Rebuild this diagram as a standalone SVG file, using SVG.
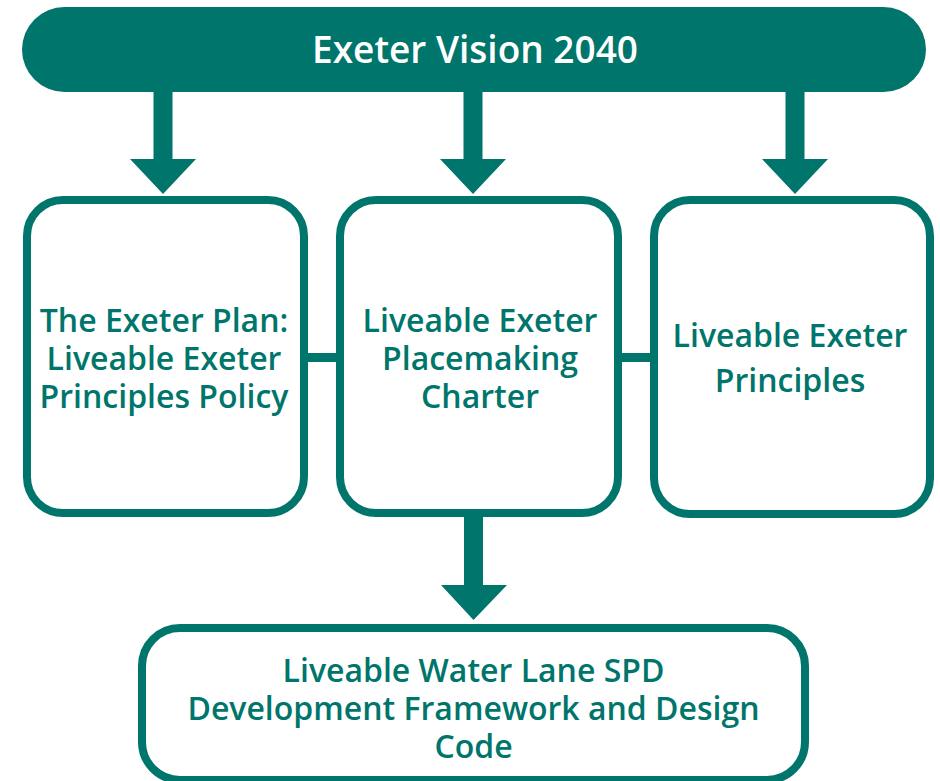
<svg xmlns="http://www.w3.org/2000/svg" width="940" height="781" viewBox="0 0 940 781">
<style>
.box{fill:#fff;stroke:#00756C;stroke-width:8}
.t{font-family:"Open Sans","Noto Sans",sans-serif;font-weight:600;font-size:32px;fill:#00756C;text-anchor:middle}
.title{font-family:"Open Sans","Noto Sans",sans-serif;font-weight:600;font-size:37px;fill:#fff;text-anchor:middle}
.c{fill:#00756C}
.l{stroke:#00756C;stroke-width:9;fill:none}
</style>
<rect width="940" height="781" fill="#fff"/>
<g id="connectors">
<path class="c" d="M153.5,90 H172.5 V159 H196 L163,194 L130,159 H153.5 Z"/>
<path class="c" d="M463.5,90 H482.5 V159 H506 L473,194 L440,159 H463.5 Z"/>
<path class="c" d="M785.5,90 H804.5 V159 H828 L795,194 L762,159 H785.5 Z"/>
<path class="c" d="M464,515 H483 V585 H507 L473.5,620 L441,585 H464 Z"/>
<line class="l" x1="304" y1="357.5" x2="340" y2="357.5"/>
<line class="l" x1="618" y1="357.5" x2="654" y2="357.5"/>
</g>
<g id="vision">
<rect x="22" y="7" width="904" height="85" rx="42.5" fill="#00756C"/>
<text class="title" x="475" y="63">Exeter Vision 2040</text>
</g>
<g id="plan">
<rect class="box" x="27" y="200" width="277" height="313" rx="36"/>
<text class="t" x="164" y="332">The Exeter Plan:</text>
<text class="t" x="164" y="370">Liveable Exeter</text>
<text class="t" x="164" y="408">Principles Policy</text>
</g>
<g id="charter">
<rect class="box" x="340" y="200" width="278" height="313" rx="36"/>
<text class="t" x="480" y="332">Liveable Exeter</text>
<text class="t" x="480" y="370">Placemaking</text>
<text class="t" x="480" y="408">Charter</text>
</g>
<g id="principles">
<rect class="box" x="654" y="200" width="276" height="314" rx="36"/>
<text class="t" x="790" y="347">Liveable Exeter</text>
<text class="t" x="790" y="392">Principles</text>
</g>
<g id="spd">
<rect class="box" x="142" y="628" width="663" height="152" rx="38"/>
<text class="t" x="473.5" y="682">Liveable Water Lane SPD</text>
<text class="t" x="473.5" y="720">Development Framework and Design</text>
<text class="t" x="473.5" y="758">Code</text>
</g>
</svg>
